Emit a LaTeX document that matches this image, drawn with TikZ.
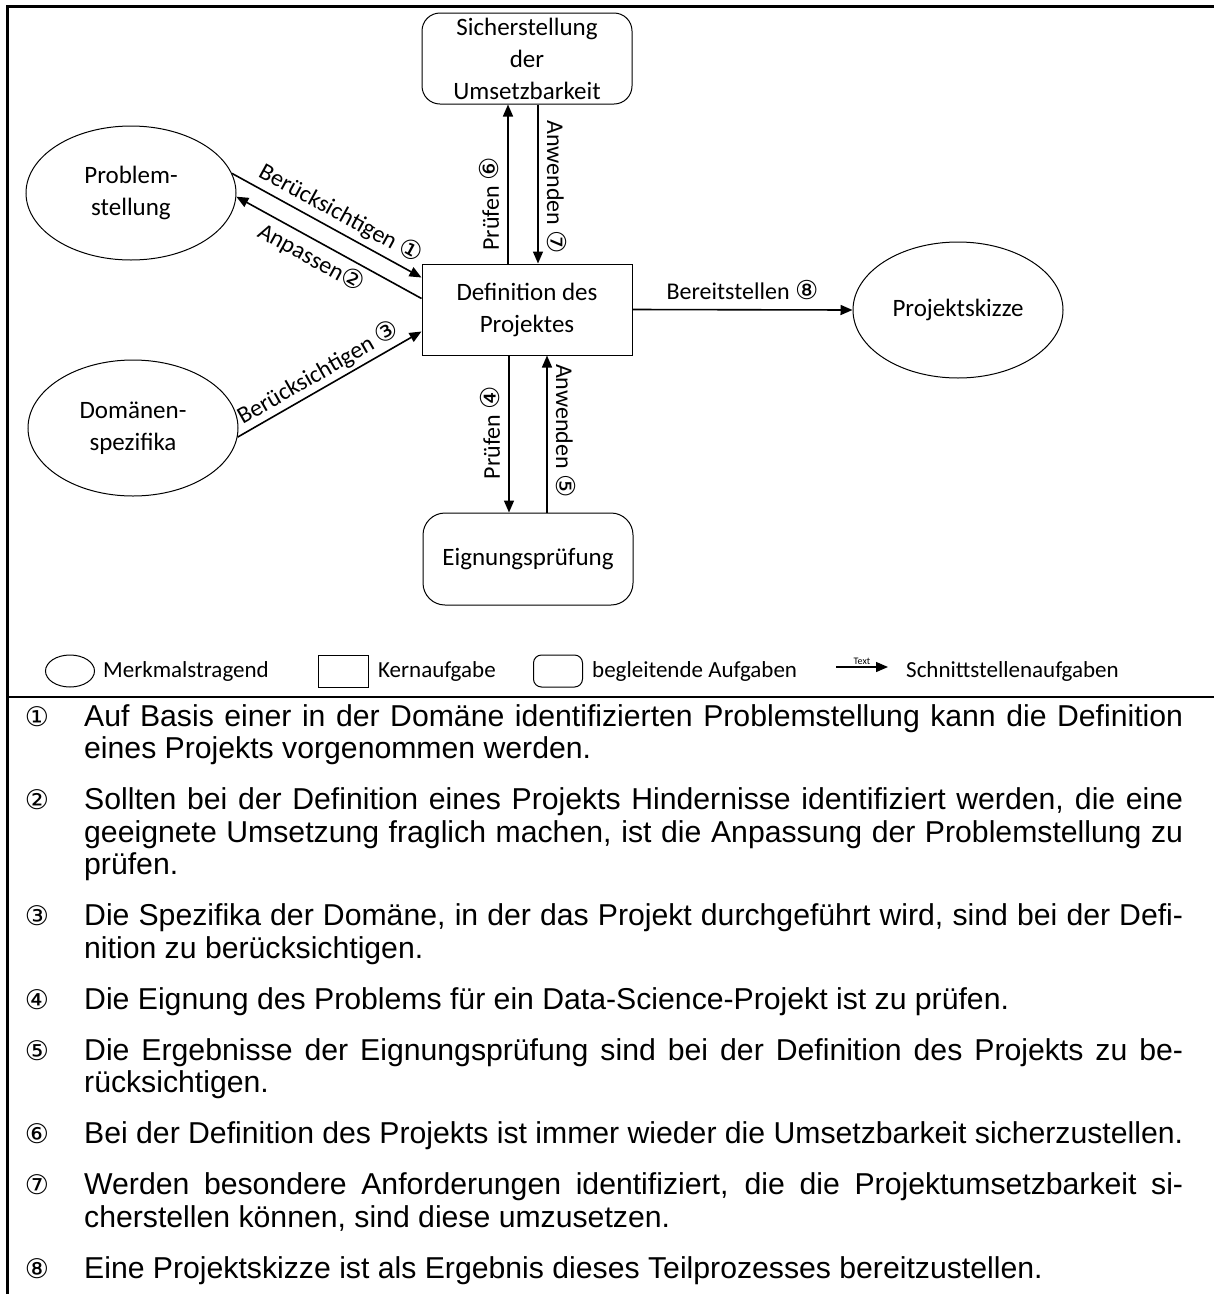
\documentclass[tikz,border=0pt]{standalone}
\usepackage{fontspec}
\setmainfont{Carlito}
\newfontfamily\arialf{Liberation Sans}
\newfontfamily\symf{DejaVu Sans}
\usetikzlibrary{shapes.geometric,arrows.meta,calc}
\newcommand{\cc}[1]{{\symf\fontsize{26}{28}\selectfont #1}}
\tolerance=9999
\hbadness=10000
\hyphenpenalty=10000
\exhyphenpenalty=10000
\begin{document}
\begin{tikzpicture}[x=1pt,y=-1pt,
  every node/.style={inner sep=0pt},
  nfont/.style={font=\fontsize{25}{32}\selectfont},
  feat/.style={ellipse, draw, line width=1pt, minimum width=210pt, minimum height=136pt, align=center, nfont},
  core/.style={rectangle, draw, line width=1pt, minimum width=210pt, minimum height=91pt, align=center, nfont},
  aux/.style={core, rounded corners=18pt},
  conn/.style={line width=1.6pt, -{Triangle[length=12pt,width=10pt]}},
  lbl/.style={font=\fontsize{24}{28}\selectfont, inner sep=5pt},
  vlbl/.style={font=\fontsize{24}{28}\selectfont, inner sep=8pt},
  lgfont/.style={font=\fontsize{23}{28}\selectfont},
  para/.style={anchor=base west, text width=1099pt, align=justify, font=\arialf\fontsize{30.2}{32.5}\selectfont},
  pnum/.style={anchor=base, font=\symf\fontsize{27}{30}\selectfont},
  ]
\useasboundingbox (0,0) rectangle (1214,1294);
% frame
\draw[line width=2.5pt] (6.5,6.5) -- (1214,6.5);
\draw[line width=2.5pt] (7.5,5.3) -- (7.5,1294);
\draw[line width=2pt] (6.5,697) -- (1214,697);

% nodes
\node[aux] (sich) at (527,58.5) {Sicherstellung\\der\\Umsetzbarkeit};
\node[core] (def) at (527,309.5) {Definition des\\Projektes};
\node[aux, minimum height=92pt, rounded corners=22pt] (eig) at (528,559) {Eignungsprüfung};
\node[feat, minimum height=134pt] (prob) at (131,193) {Problem-\\stellung};
\node[feat] (dom) at (133,428) {Domänen-\\spezifika};
\node[feat] (skiz) at (958,310) {Projektskizze};

% connectors
\draw[conn] (prob.11) -- node[lbl, sloped, above, pos=0.53] (l1) {Berücksichtigen \cc{①}} ($(def.north west)+(0,14)$);
\draw[conn] ($(def.north west)+(0,35)$) -- node[lbl, sloped, below, pos=0.55] (l2) {Anpassen\cc{②}} (prob.-2);
\draw[conn] (dom.-5) -- node[lbl, sloped, above, pos=0.48, inner sep=3pt] (l3) {Berücksichtigen \cc{③}} ($(def.north west)+(0,68)$);
\draw[conn] ($(def.north)+(-19,0)$) -- node[vlbl, rotate=90, anchor=south, pos=0.375] (l6) {Prüfen \cc{⑥}} ($(sich.south)+(-19,0)$);
\draw[conn] ($(sich.south)+(11,0)$) -- node[vlbl, rotate=-90, anchor=south, pos=0.52] (l7) {Anwenden \cc{⑦}} ($(def.north)+(11,0)$);
\draw[conn] ($(def.south)+(-18,0)$) -- node[vlbl, rotate=90, anchor=south, pos=0.49] (l4) {Prüfen \cc{④}} ($(eig.north)+(-19,0)$);
\draw[conn] ($(eig.north)+(19,0)$) -- node[vlbl, rotate=-90, anchor=south, pos=0.52] (l5) {Anwenden \cc{⑤}} ($(def.south)+(20,0)$);
\draw[conn] (def.east) -- node[lbl, above, pos=0.5, inner sep=9pt] (l8) {Bereitstellen \cc{⑧}} (skiz.west);

% legend
\node[ellipse, draw, line width=1pt, minimum width=49pt, minimum height=32pt] (lg1) at (70,671) {};
\node[lgfont, anchor=west] (lt1) at (103,671) {Merkmalstragend};
\node[rectangle, draw, line width=1pt, minimum width=50pt, minimum height=32pt] (lg2) at (343,671) {};
\node[lgfont, anchor=west] (lt2) at (378,671) {Kernaufgabe};
\node[rectangle, rounded corners=8pt, draw, line width=1pt, minimum width=49pt, minimum height=32pt] (lg3) at (558,671) {};
\node[lgfont, anchor=west] (lt3) at (592,671) {begleitende Aufgaben};
\coordinate (la1) at (836,667);
\coordinate (la2) at (888,667);
\draw[conn, line width=1.3pt] (la1) -- node[above, font=\fontsize{10}{12}\selectfont, inner sep=2pt] (ltx) {Text} (la2);
\node[lgfont, anchor=west] (lt4) at (906,671) {Schnittstellenaufgaben};

% list
\node[pnum] (n1) at (37,726) {①};
\node[para] (p1) at (84,726) {Auf Basis einer in der Domäne identifizierten Problemstellung kann die Definition\linebreak eines Projekts vorgenommen werden.};
\node[pnum] (n2) at (37,809.5) {②};
\node[para] (p2) at (84,809.5) {Sollten bei der Definition eines Projekts Hindernisse identifiziert werden, die eine\linebreak geeignete Umsetzung fraglich machen, ist die Anpassung der Problemstellung zu\linebreak prüfen.};
\node[pnum] (n3) at (37,925.5) {③};
\node[para] (p3) at (84,925.5) {Die Spezifika der Domäne, in der das Projekt durchgeführt wird, sind bei der Defi-\linebreak nition zu berücksichtigen.};
\node[pnum] (n4) at (37,1009) {④};
\node[para] (p4) at (84,1009) {Die Eignung des Problems für ein Data-Science-Projekt ist zu prüfen.};
\node[pnum] (n5) at (37,1060) {⑤};
\node[para] (p5) at (84,1060) {Die Ergebnisse der Eignungsprüfung sind bei der Definition des Projekts zu be-\linebreak rücksichtigen.};
\node[pnum] (n6) at (37,1143.5) {⑥};
\node[para] (p6) at (84,1143.5) {Bei der Definition des Projekts ist immer wieder die Umsetzbarkeit sicherzustellen.};
\node[pnum] (n7) at (37,1194.5) {⑦};
\node[para] (p7) at (84,1194.5) {Werden besondere Anforderungen identifiziert, die die Projektumsetzbarkeit si-\linebreak cherstellen können, sind diese umzusetzen.};
\node[pnum] (n8) at (37,1278) {⑧};
\node[para] (p8) at (84,1278) {Eine Projektskizze ist als Ergebnis dieses Teilprozesses bereitzustellen.};
\end{tikzpicture}
\end{document}
